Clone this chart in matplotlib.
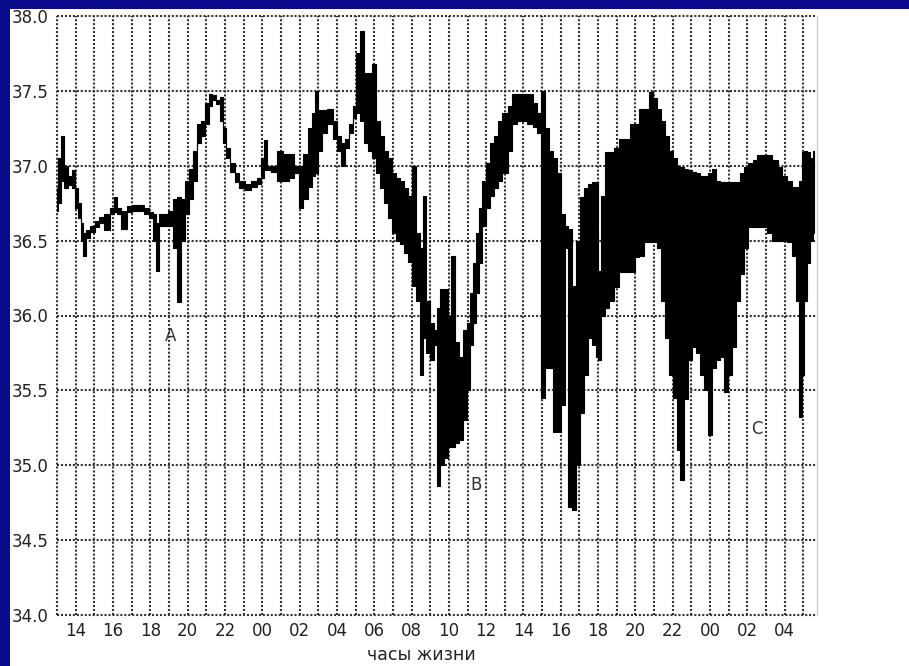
import numpy as np
import matplotlib
matplotlib.use('Agg')
import matplotlib.pyplot as plt
from matplotlib.patches import Rectangle

# hours counted from midnight of day 1 (24 = 00, 48 = 00 of day 3)
hours = [13.00, 13.16, 13.32, 13.48, 13.70, 13.86, 14.02, 14.18, 14.34, 14.45,
         14.61, 14.88, 15.14, 15.41, 15.68, 15.95, 16.11, 16.32, 16.59, 16.86,
         17.18, 17.50, 17.82, 18.04, 18.25, 18.41, 18.57, 18.84, 19.11, 19.32,
         19.54, 19.75, 19.97, 20.18, 20.40, 20.61, 20.82, 21.04, 21.20, 21.41,
         21.63, 21.79, 21.95, 22.16, 22.38, 22.65, 22.91, 23.24, 23.56, 23.83,
         23.99, 24.15, 24.31, 24.63, 24.95, 25.27, 25.59, 25.86, 26.08, 26.34,
         26.56, 26.77, 26.93, 27.09, 27.36, 27.63, 27.90, 28.11, 28.33, 28.54,
         28.76, 28.97, 29.13, 29.35, 29.56, 29.77, 29.99, 30.20, 30.42, 30.63,
         30.85, 31.06, 31.27, 31.49, 31.70, 31.92, 32.13, 32.35, 32.51, 32.67,
         32.88, 33.10, 33.26, 33.42, 33.63, 33.85, 34.06, 34.22, 34.44, 34.65,
         34.87, 35.03, 35.19, 35.35, 35.51, 35.67, 35.88, 36.10, 36.31, 36.53,
         36.74, 37.01, 37.28, 37.54, 37.81, 38.08, 38.35, 38.62, 38.88, 39.05,
         39.26, 39.47, 39.69, 39.90, 40.12, 40.28, 40.49, 40.71, 40.92, 41.13,
         41.35, 41.56, 41.78, 41.94, 42.10, 42.26, 42.47, 42.74, 43.01, 43.28,
         43.55, 43.82, 44.08, 44.35, 44.62, 44.83, 45.05, 45.26, 45.48, 45.69,
         45.90, 46.12, 46.33, 46.49, 46.71, 46.92, 47.14, 47.36, 47.57, 47.78,
         48.00, 48.21, 48.42, 48.64, 48.85, 49.07, 49.28, 49.50, 49.71, 49.92,
         50.14, 50.41, 50.67, 50.94, 51.21, 51.48, 51.75, 52.01, 52.28, 52.50,
         52.66, 52.82, 52.98, 53.14, 53.30, 53.46, 53.57]

t_min = [36.70, 36.75, 36.90, 36.85, 36.87, 36.85, 36.72, 36.65, 36.50, 36.40,
         36.52, 36.56, 36.59, 36.62, 36.57, 36.68, 36.69, 36.68, 36.58, 36.69,
         36.70, 36.70, 36.68, 36.65, 36.50, 36.30, 36.60, 36.60, 36.60, 36.45,
         36.09, 36.50, 36.68, 36.78, 36.90, 37.15, 37.20, 37.28, 37.40, 37.44,
         37.41, 37.30, 37.15, 37.05, 36.96, 36.89, 36.85, 36.84, 36.86, 36.88,
         36.92, 36.97, 36.97, 36.96, 36.90, 36.90, 36.92, 36.95, 36.72, 36.78,
         36.86, 36.93, 36.95, 37.10, 37.22, 37.28, 37.18, 37.10, 37.00, 37.12,
         37.22, 37.32, 37.35, 37.30, 37.15, 37.10, 37.05, 36.95, 36.85, 36.75,
         36.65, 36.55, 36.50, 36.48, 36.42, 36.36, 36.20, 36.10, 35.60, 35.85,
         35.75, 35.70, 35.80, 34.86, 35.00, 35.05, 35.12, 35.12, 35.15, 35.17,
         35.30, 35.50, 35.80, 35.95, 36.15, 36.35, 36.60, 36.72, 36.80, 36.85,
         36.90, 36.95, 37.10, 37.28, 37.30, 37.30, 37.28, 37.26, 37.22, 35.45,
         35.65, 35.65, 35.22, 35.22, 35.40, 36.45, 34.72, 34.70, 35.00, 35.35,
         35.60, 35.85, 35.80, 35.72, 35.70, 36.00, 36.05, 36.10, 36.19, 36.29,
         36.29, 36.29, 36.39, 36.40, 36.49, 36.49, 36.49, 36.45, 36.10, 35.85,
         35.60, 35.45, 35.10, 34.90, 35.44, 35.70, 35.79, 35.75, 35.60, 35.50,
         35.20, 35.65, 35.70, 35.72, 35.49, 35.60, 35.79, 36.10, 36.28, 36.45,
         36.59, 36.59, 36.59, 36.59, 36.55, 36.50, 36.50, 36.50, 36.49, 36.40,
         36.10, 35.32, 35.60, 36.10, 36.35, 36.50, 36.55]

t_max = [36.85, 37.05, 37.20, 37.00, 36.93, 36.97, 36.85, 36.75, 36.62, 36.55,
         36.57, 36.60, 36.63, 36.66, 36.68, 36.72, 36.79, 36.72, 36.70, 36.73,
         36.74, 36.74, 36.72, 36.69, 36.68, 36.62, 36.68, 36.68, 36.70, 36.78,
         36.79, 36.78, 36.90, 36.98, 37.10, 37.28, 37.30, 37.42, 37.48, 37.47,
         37.44, 37.46, 37.25, 37.12, 37.02, 36.95, 36.90, 36.88, 36.90, 36.92,
         37.05, 37.17, 37.00, 37.00, 37.10, 37.08, 37.08, 37.00, 37.00, 37.08,
         37.25, 37.35, 37.50, 37.37, 37.37, 37.38, 37.30, 37.20, 37.15, 37.18,
         37.28, 37.40, 37.75, 37.90, 37.62, 37.62, 37.68, 37.30, 37.20, 37.10,
         37.05, 36.95, 36.92, 36.90, 36.85, 36.80, 37.00, 36.55, 36.45, 36.80,
         36.10, 35.95, 35.90, 36.05, 36.18, 36.18, 36.00, 36.40, 35.82, 35.72,
         35.90, 35.95, 36.15, 36.35, 36.55, 36.72, 36.90, 37.02, 37.15, 37.20,
         37.30, 37.35, 37.40, 37.48, 37.48, 37.48, 37.48, 37.42, 37.35, 37.50,
         37.25, 37.10, 37.05, 36.95, 36.68, 36.60, 36.58, 36.20, 36.50, 36.79,
         36.85, 36.88, 36.89, 36.89, 36.30, 36.80, 37.09, 37.09, 37.12, 37.18,
         37.18, 37.28, 37.28, 37.38, 37.38, 37.49, 37.45, 37.38, 37.30, 37.20,
         37.10, 37.05, 37.00, 36.99, 36.98, 36.97, 36.96, 36.95, 36.93, 36.93,
         36.95, 36.98, 36.90, 36.89, 36.89, 36.89, 36.89, 36.89, 36.95, 36.99,
         37.02, 37.04, 37.07, 37.07, 37.07, 37.04, 36.99, 36.93, 36.90, 36.86,
         36.86, 36.90, 37.09, 37.10, 37.09, 37.05, 37.10]

tick_hours = list(range(14, 53, 2))
tick_labels = ['14', '16', '18', '20', '22', '00', '02', '04', '06', '08',
               '10', '12', '14', '16', '18', '20', '22', '00', '02', '04']
y_ticks = [34.0, 34.5, 35.0, 35.5, 36.0, 36.5, 37.0, 37.5, 38.0]

marks = {'A': (19.06, 35.86), 'B': (35.45, 34.87), 'C': (50.5, 35.24)}

fig = plt.figure(figsize=(9.09, 6.66), dpi=100, facecolor='#0a0a8c')
fig.add_artist(Rectangle((10 / 909, 0), 1, 657 / 666, transform=fig.transFigure,
                         facecolor='white', edgecolor='none', zorder=0))

ax = fig.add_axes([57 / 909, 51 / 666, 760 / 909, 599 / 666])
ax.set_facecolor('white')

ax.fill_between(hours, t_min, t_max, step='mid', facecolor='black',
                edgecolor='black', linewidth=0.8, zorder=3)

ax.set_xlim(13, 53.73)
ax.set_ylim(34, 38)

# every hour gets a grid line, only even hours get a label
all_hours = np.arange(13, 54)
ax.set_xticks(all_hours)
lab = dict(zip(tick_hours, tick_labels))
ax.set_xticklabels([lab.get(h, '') for h in all_hours])
ax.set_yticks(y_ticks)
ax.set_yticklabels(['%.1f' % v for v in y_ticks])

ax.grid(True, linestyle=(0, (1, 0.9)), color='#333333', linewidth=1.5)
ax.set_axisbelow(True)
for gl in ax.get_xgridlines() + ax.get_ygridlines():
    gl.set_clip_on(False)

ax.tick_params(length=0, labelsize=12, colors='#222222')
ax.tick_params(axis='y', pad=6)
ax.tick_params(axis='x', pad=5)

for s in ['left', 'top', 'bottom']:
    ax.spines[s].set_visible(False)
ax.spines['right'].set_color('#cccccc')
ax.spines['right'].set_linewidth(1)

for name, (hx, ty) in marks.items():
    ax.text(hx, ty, name, ha='center', va='center', fontsize=12, color='#333333')

fig.text(421 / 909, 11 / 666, 'часы жизни', ha='center', va='center',
         fontsize=12.5, color='#222222')

fig.savefig('out.png', dpi=100, facecolor=fig.get_facecolor())
